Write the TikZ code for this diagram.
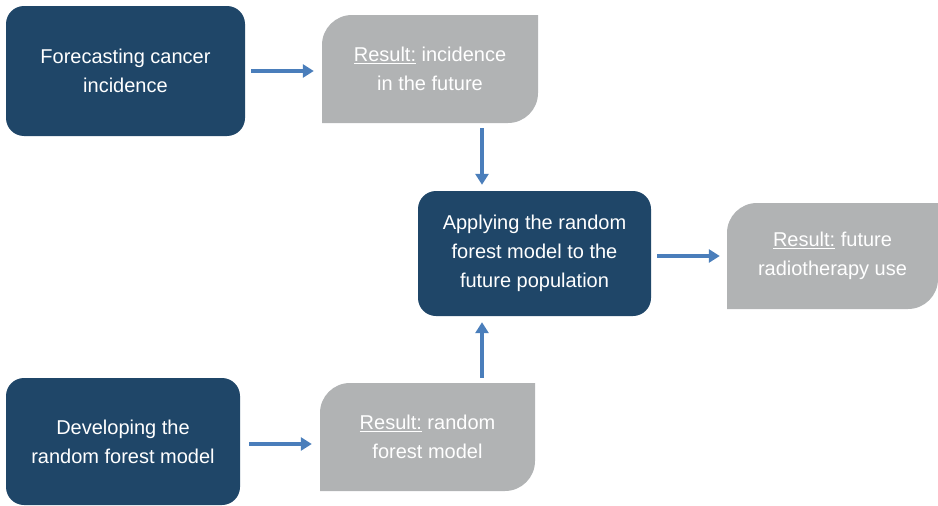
\documentclass[tikz,border=0pt]{standalone}
\usepackage{fontspec}
\setmainfont{Liberation Sans}
\usetikzlibrary{arrows.meta}

\definecolor{stepblue}{RGB}{31,70,104}
\definecolor{resgray}{RGB}{177,179,180}
\definecolor{arrowblue}{RGB}{74,126,187}

\begin{document}
\begin{tikzpicture}[
    x=1pt, y=-1pt,
    task/.style={rectangle, rounded corners=18pt, fill=stepblue, text=white, inner sep=0pt, align=center,
        font=\fontsize{20}{29}\selectfont},
    result/.style={rectangle, inner sep=0pt, align=center, text=white, font=\fontsize{20}{29}\selectfont,
        path picture={
            \fill[resgray] ([yshift=-30pt]path picture bounding box.north west)
                arc[start angle=180, end angle=90, radius=30pt]
                -- (path picture bounding box.north east)
                -- ([yshift=30pt]path picture bounding box.south east)
                arc[start angle=0, end angle=-90, radius=30pt]
                -- (path picture bounding box.south west) -- cycle;
        }},
    arrow/.style={-{Triangle[length=11pt, width=13pt]}, line width=3.5pt, draw=arrowblue}
]
\useasboundingbox (0,0) rectangle (938,506);

% Steps
\node[task, minimum width=239pt, minimum height=130pt] (forecast) at (125.5,71) {Forecasting cancer\\incidence};
\node[task, minimum width=233pt, minimum height=125pt] (apply) at (534.5,253.5) {Applying the random\\forest model to the\\future population};
\node[task, minimum width=234pt, minimum height=127pt] (develop) at (123,441.5) {Developing the\\random forest model};

% Results
\node[result, minimum width=216pt, minimum height=108pt] (incid) at (430,69) {\underline{Result:} incidence\\in the future};
\node[result, minimum width=211pt, minimum height=106pt] (radio) at (832.5,256) {\underline{Result:} future\\radiotherapy use};
\node[result, minimum width=215pt, minimum height=108pt] (rfmodel) at (427.5,437) {\underline{Result:} random\\forest model};

\coordinate (midline) at (482,0);

% Arrows
\draw[arrow, shorten <=6pt, shorten >=8pt] (forecast.east |- 0,71) -- (incid.west |- 0,71);
\draw[arrow, shorten <=5pt, shorten >=6pt] (incid.south -| midline) -- (apply.north -| midline);
\draw[arrow, shorten <=5pt, shorten >=6pt] (rfmodel.north -| midline) -- (apply.south -| midline);
\draw[arrow, shorten <=6pt, shorten >=7pt] (apply.east |- 0,256) -- (radio.west |- 0,256);
\draw[arrow, shorten <=9pt, shorten >=8pt] (develop.east |- 0,444) -- (rfmodel.west |- 0,444);

\end{tikzpicture}
\end{document}
